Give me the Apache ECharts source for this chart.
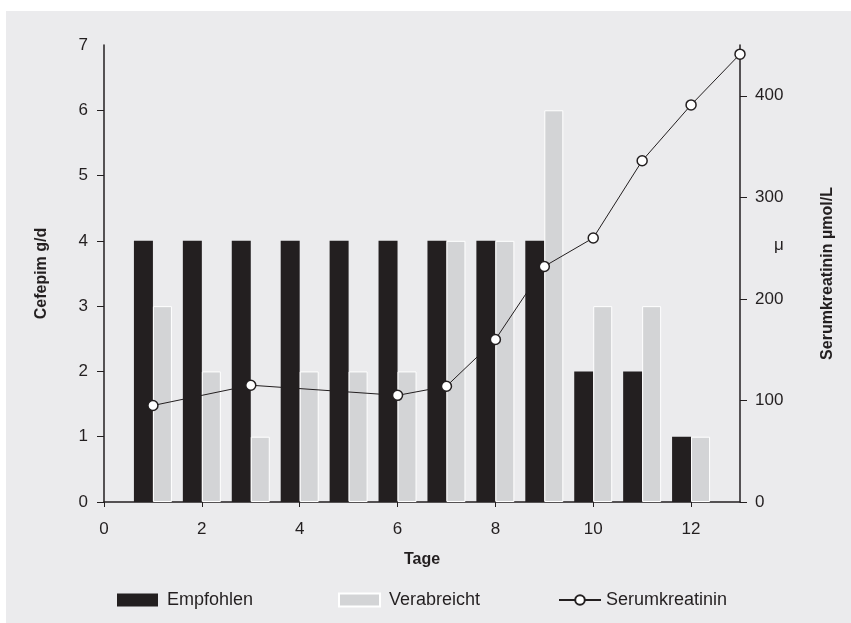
<!DOCTYPE html>
<html>
<head>
<meta charset="utf-8">
<script src="https://cdn.jsdelivr.net/npm/echarts@6/dist/echarts.min.js"></script>
<style>
    html, body { margin: 0; padding: 0; background: #fff; }
    #chart { width: 851px; height: 623px; }
</style>
</head>
<body>
<div id="chart"></div>
<script>
// Tage 1..12 (Balken), Serumkreatinin bis Tag 13
var days = [1, 2, 3, 4, 5, 6, 7, 8, 9, 10, 11, 12];
var empfohlen = [4, 4, 4, 4, 4, 4, 4, 4, 4, 2, 2, 1];
var verabreicht = [3, 2, 1, 2, 2, 2, 4, 4, 6, 3, 3, 1];
var kreaDays = [1, 3, 6, 7, 8, 9, 10, 11, 12, 13];
var kreatinin = [95, 115, 105, 114, 160, 232, 260, 336, 391, 441];

var xTicks = [0, 2, 4, 6, 8, 10, 12];
var leftTicks = [0, 1, 2, 3, 4, 5, 6];
var rightTicks = [0, 100, 200, 300, 400];

var FONT = '"Liberation Sans", Arial, sans-serif';
var INK = '#231f20';

var chart = echarts.init(document.getElementById('chart'));

function pairs(xs, ys) {
    return xs.map(function (x, i) { return [x, ys[i]]; });
}

var legendText = { fontSize: 18, color: INK, fontFamily: FONT, padding: [0, 0, 0, 4] };

var option = {
    animation: false,
    backgroundColor: '#fff',
    textStyle: { fontFamily: FONT, color: INK },
    graphic: [
        {
            type: 'rect',
            z: -10,
            shape: { x: 6, y: 11, width: 845, height: 612 },
            style: { fill: '#ebebed' }
        },
        {
            type: 'text',
            left: 774,
            top: 237,
            style: { text: 'μ', font: '17px "Liberation Sans"', fill: INK }
        }
    ],
    grid: { left: 104, right: 111, top: 45, bottom: 121 },
    legend: [
        {
            left: 112, top: 586, icon: 'rect',
            data: ['Empfohlen'],
            itemWidth: 41, itemHeight: 13,
            textStyle: legendText
        },
        {
            left: 333, top: 586, icon: 'rect',
            data: ['Verabreicht'],
            itemWidth: 41, itemHeight: 13,
            textStyle: legendText
        },
        {
            left: 553, top: 586,
            data: ['Serumkreatinin'],
            itemWidth: 42, itemHeight: 12,
            textStyle: { fontSize: 18, color: INK, fontFamily: FONT }
        }
    ],
    xAxis: {
        type: 'value',
        min: 0, max: 13, interval: 1,
        name: 'Tage',
        nameLocation: 'middle',
        nameGap: 50,
        nameTextStyle: { fontWeight: 'bold', fontSize: 16, color: INK, fontFamily: FONT },
        axisLine: { onZero: false, lineStyle: { color: INK, width: 1.5 } },
        axisTick: { show: true, length: 5, customValues: xTicks, lineStyle: { color: INK } },
        axisLabel: { customValues: xTicks, fontSize: 17, color: INK, margin: 19, fontFamily: FONT },
        splitLine: { show: false }
    },
    yAxis: [
        {
            type: 'value',
            min: 0, max: 7, interval: 1,
            name: 'Cefepim g/d',
            nameLocation: 'middle',
            nameRotate: 90,
            nameGap: 54,
            nameTextStyle: { fontWeight: 'bold', fontSize: 16, color: INK, fontFamily: FONT },
            axisLine: { show: true, lineStyle: { color: INK, width: 1.5 } },
            axisTick: { show: true, length: 7, customValues: leftTicks, lineStyle: { color: INK } },
            axisLabel: { fontSize: 17, color: INK, margin: 16, fontFamily: FONT },
            splitLine: { show: false }
        },
        {
            type: 'value',
            position: 'right',
            min: 0, max: 450, interval: 50,
            name: 'Serumkreatinin µmol/L',
            nameLocation: 'middle',
            nameRotate: 90,
            nameGap: 80,
            nameTextStyle: { fontWeight: 'bold', fontSize: 16, color: INK, fontFamily: FONT },
            axisLine: { show: true, lineStyle: { color: INK, width: 1.5 } },
            axisTick: { show: true, length: 7, customValues: rightTicks, lineStyle: { color: INK } },
            axisLabel: { customValues: rightTicks, fontSize: 17, color: INK, margin: 15, fontFamily: FONT },
            splitLine: { show: false }
        }
    ],
    series: [
        {
            name: 'Empfohlen',
            type: 'bar',
            yAxisIndex: 0,
            barWidth: 19,
            barGap: '0%',
            itemStyle: { color: INK },
            data: pairs(days, empfohlen)
        },
        {
            name: 'Verabreicht',
            type: 'bar',
            yAxisIndex: 0,
            barWidth: 19,
            barGap: '0%',
            itemStyle: { color: '#d3d4d6', borderColor: '#ffffff', borderWidth: 1 },
            data: pairs(days, verabreicht)
        },
        {
            name: 'Serumkreatinin',
            type: 'line',
            yAxisIndex: 1,
            symbol: 'circle',
            symbolSize: 10,
            lineStyle: { color: INK, width: 1 },
            itemStyle: { color: '#ffffff', borderColor: INK, borderWidth: 1.5 },
            data: pairs(kreaDays, kreatinin),
            z: 5
        }
    ]
};

chart.setOption(option);
</script>
</body>
</html>
